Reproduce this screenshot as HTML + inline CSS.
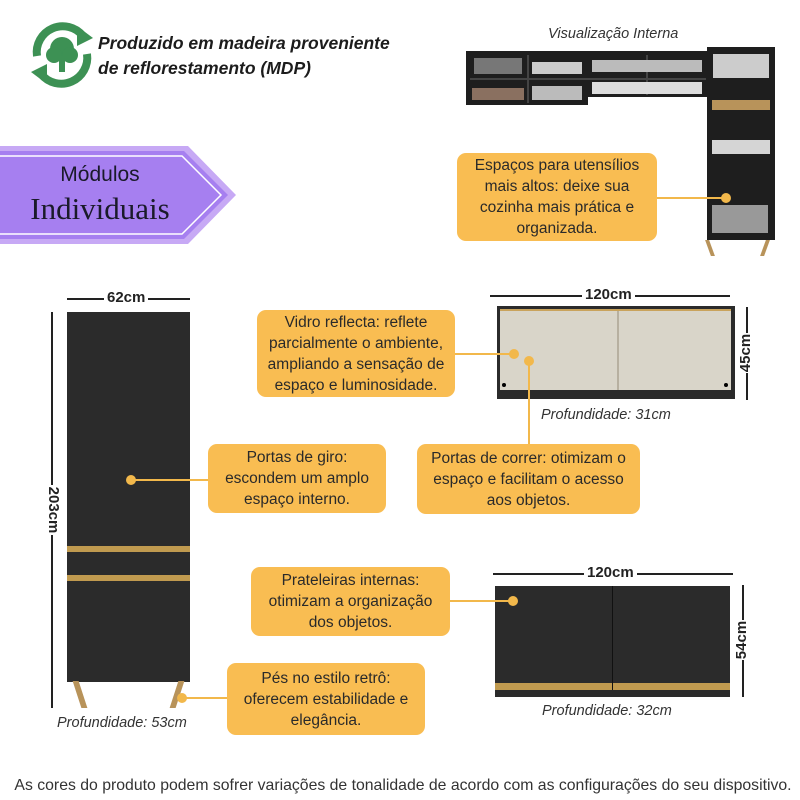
<!DOCTYPE html>
<html><head><meta charset="utf-8"><style>
body{margin:0;width:800px;height:800px;background:#fff;position:relative;overflow:hidden;font-family:"Liberation Sans",sans-serif;color:#222}
.a{position:absolute}
.c{position:absolute;background:#f9bd52;border-radius:9px;text-align:center;font-size:15.5px;line-height:21px;color:#2a2a2a;display:flex;align-items:center;justify-content:center;white-space:nowrap}
.ln{position:absolute;background:#f2b84b}
.dot{position:absolute;width:10px;height:10px;border-radius:50%;background:#f2b84b}
.blk{position:absolute;background:#2b2b2b}
.gd{position:absolute;background:#c09a4f}
.dim{position:absolute;background:#222}
.dt{position:absolute;font-weight:bold;font-size:15px;background:#fff;padding:0 3px}
.pf{position:absolute;font-style:italic;font-size:14.5px;color:#333}
</style></head><body>
<svg class="a" style="left:25px;top:18px" width="74" height="74" viewBox="0 0 74 74">
<path d="M12 38 A26 26 0 0 1 58 18" stroke="#3d9154" stroke-width="8" fill="none"/>
<polygon points="52,8 68,20 52,28" fill="#3d9154"/>
<path d="M62 36 A26 26 0 0 1 16 56" stroke="#3d9154" stroke-width="8" fill="none"/>
<polygon points="22,66 6,54 22,46" fill="#3d9154"/>
<circle cx="37" cy="31" r="12" fill="#3d9154"/><circle cx="29" cy="37" r="8" fill="#3d9154"/><circle cx="45" cy="37" r="8" fill="#3d9154"/>
<rect x="34" y="38" width="6" height="16" fill="#3d9154"/>
</svg>
<div class="a" style="left:98px;top:31px;font-size:17.5px;font-weight:bold;font-style:italic;line-height:25px;color:#1c1c1c;white-space:nowrap">Produzido em madeira proveniente<br>de reflorestamento (MDP)</div>
<svg class="a" style="left:0;top:146px" width="240" height="100">
<polygon points="0,0 188,0 236,49 188,98 0,98" fill="#c7a9f5"/>
<polygon points="0,5 184,5 228,49 184,93 0,93" fill="#a67ff0"/>
<polyline points="0,10 182,10 221,49 182,88 0,88" fill="none" stroke="#fff" stroke-width="1.5"/>
</svg>
<div class="a" style="left:0;width:200px;top:163px;text-align:center;font-size:21px;color:#1a1a2a">Módulos</div>
<div class="a" style="left:0;width:200px;top:191px;text-align:center;font-size:31px;font-family:'Liberation Serif',serif;color:#1a1a2a">Individuais</div>
<div class="a" style="left:548px;top:26px;font-style:italic;font-size:14.5px;color:#333">Visualização Interna</div>
<div class="blk" style="left:466px;top:51px;width:122px;height:54px;background:#1e1e1e"></div>
<div class="blk" style="left:588px;top:51px;width:120px;height:46px;background:#1e1e1e"></div>
<div class="a" style="left:470px;top:78px;width:236px;height:2px;background:#444"></div>
<div class="a" style="left:527px;top:55px;width:2px;height:48px;background:#444"></div>
<div class="a" style="left:646px;top:55px;width:2px;height:40px;background:#444"></div>
<div class="a" style="left:474px;top:58px;width:48px;height:16px;background:#777"></div>
<div class="a" style="left:472px;top:88px;width:52px;height:12px;background:#8a7060"></div>
<div class="a" style="left:532px;top:62px;width:50px;height:12px;background:#ccc"></div>
<div class="a" style="left:532px;top:86px;width:50px;height:14px;background:#bbb"></div>
<div class="a" style="left:592px;top:60px;width:110px;height:12px;background:#bbb"></div>
<div class="a" style="left:592px;top:82px;width:110px;height:12px;background:#ddd"></div>
<div class="blk" style="left:707px;top:47px;width:68px;height:193px;background:#1e1e1e"></div>
<div class="a" style="left:713px;top:54px;width:56px;height:24px;background:#ccc"></div>
<div class="a" style="left:712px;top:100px;width:58px;height:10px;background:#b8935a"></div>
<div class="a" style="left:712px;top:140px;width:58px;height:14px;background:#d5d5d5"></div>
<div class="a" style="left:712px;top:205px;width:56px;height:28px;background:#999"></div>
<div class="a" style="left:708px;top:240px;width:4px;height:16px;background:#b8935a;transform:skewX(20deg)"></div>
<div class="a" style="left:763px;top:240px;width:4px;height:16px;background:#b8935a;transform:skewX(-20deg)"></div>
<div class="c" style="left:457px;top:153px;width:200px;height:88px">Espaços para utensílios<br>mais altos: deixe sua<br>cozinha mais prática e<br>organizada.</div>
<div class="ln" style="left:657px;top:197px;width:68px;height:2px"></div>
<div class="dot" style="left:721px;top:193px"></div>
<div class="dim" style="left:67px;top:298px;width:123px;height:1.5px"></div>
<div class="dt" style="left:104px;top:289px">62cm</div>
<div class="blk" style="left:67px;top:312px;width:123px;height:370px"></div>
<div class="gd" style="left:67px;top:546px;width:123px;height:6px"></div>
<div class="gd" style="left:67px;top:575px;width:123px;height:6px"></div>
<div class="a" style="left:77px;top:681px;width:6px;height:27px;background:#b8935a;transform:skewX(18deg)"></div>
<div class="a" style="left:174px;top:681px;width:6px;height:27px;background:#b8935a;transform:skewX(-18deg)"></div>
<div class="dim" style="left:51px;top:312px;width:2px;height:396px"></div>
<div class="a" style="left:27px;top:500px;width:50px;height:20px;background:#fff;transform:rotate(90deg);font-weight:bold;font-size:15px;text-align:center">203cm</div>
<div class="pf" style="left:57px;top:715px">Profundidade: 53cm</div>
<div class="c" style="left:208px;top:444px;width:178px;height:69px">Portas de giro:<br>escondem um amplo<br>espaço interno.</div>
<div class="ln" style="left:131px;top:479px;width:77px;height:2px"></div>
<div class="dot" style="left:126px;top:475px"></div>
<div class="c" style="left:227px;top:663px;width:198px;height:72px">Pés no estilo retrô:<br>oferecem estabilidade e<br>elegância.</div>
<div class="ln" style="left:182px;top:697px;width:45px;height:2px"></div>
<div class="dot" style="left:177px;top:693px"></div>
<div class="dim" style="left:490px;top:295px;width:240px;height:1.5px"></div>
<div class="dt" style="left:582px;top:286px">120cm</div>
<div class="blk" style="left:497px;top:306px;width:238px;height:93px"></div>
<div class="a" style="left:500px;top:309px;width:231px;height:81px;background:#d9d5c9"></div>
<div class="a" style="left:617px;top:309px;width:2px;height:81px;background:#b7b0a0"></div>
<div class="a" style="left:500px;top:309px;width:231px;height:2px;background:#c9a35c"></div>
<div class="dot" style="left:502px;top:383px;width:4px;height:4px;background:#000"></div>
<div class="dot" style="left:724px;top:383px;width:4px;height:4px;background:#000"></div>
<div class="dim" style="left:746px;top:307px;width:2px;height:93px"></div>
<div class="a" style="left:727px;top:343px;width:40px;height:20px;background:#fff;transform:rotate(-90deg);font-weight:bold;font-size:15px;text-align:center">45cm</div>
<div class="pf" style="left:541px;top:407px">Profundidade: 31cm</div>
<div class="c" style="left:257px;top:310px;width:198px;height:87px">Vidro reflecta: reflete<br>parcialmente o ambiente,<br>ampliando a sensação de<br>espaço e luminosidade.</div>
<div class="ln" style="left:455px;top:353px;width:58px;height:2px"></div>
<div class="dot" style="left:509px;top:349px"></div>
<div class="ln" style="left:528px;top:361px;width:2px;height:83px"></div>
<div class="dot" style="left:524px;top:356px"></div>
<div class="c" style="left:417px;top:444px;width:223px;height:70px">Portas de correr: otimizam o<br>espaço e facilitam o acesso<br>aos objetos.</div>
<div class="dim" style="left:493px;top:573px;width:240px;height:1.5px"></div>
<div class="dt" style="left:584px;top:564px">120cm</div>
<div class="blk" style="left:495px;top:586px;width:235px;height:111px"></div>
<div class="gd" style="left:495px;top:683px;width:235px;height:7px"></div>
<div class="a" style="left:612px;top:586px;width:1px;height:104px;background:#111"></div>
<div class="dim" style="left:742px;top:585px;width:2px;height:112px"></div>
<div class="a" style="left:723px;top:630px;width:40px;height:20px;background:#fff;transform:rotate(-90deg);font-weight:bold;font-size:15px;text-align:center">54cm</div>
<div class="pf" style="left:542px;top:703px">Profundidade: 32cm</div>
<div class="c" style="left:251px;top:567px;width:199px;height:69px">Prateleiras internas:<br>otimizam a organização<br>dos objetos.</div>
<div class="ln" style="left:450px;top:600px;width:63px;height:2px"></div>
<div class="dot" style="left:508px;top:596px"></div>
<div class="a" style="left:0;width:806px;top:777px;text-align:center;font-size:15.8px;color:#333;white-space:nowrap">As cores do produto podem sofrer variações de tonalidade de acordo com as configurações do seu dispositivo.</div>
</body></html>
